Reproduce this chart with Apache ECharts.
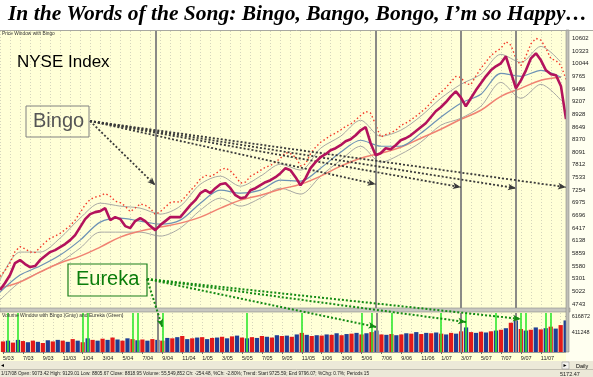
<!DOCTYPE html>
<html>
<head>
<meta charset="utf-8">
<script src="https://cdn.jsdelivr.net/npm/echarts@6/dist/echarts.min.js"></script>
<style>
html, body { margin: 0; padding: 0; background: #fff; }
#main { width: 593px; height: 377px; }
</style>
</head>
<body>
<div id="main"></div>
<script>
// semi-monthly points from 5/1/03 to 1/16/08
var dates = [];
for (var i = 0; i < 114; i++) {
	var tm = 4 + Math.floor(i / 2);
	var yr = 2003 + Math.floor(tm / 12), mo = tm % 12 + 1;
	dates.push(mo + '/' + (i % 2 ? 16 : 1) + '/' + String(yr).slice(2));
}

var closes = [5051,5205,5382,5646,5712,5624,5558,5580,5712,5800,
	5888,5932,5998,6064,6152,6262,6439,6615,6725,6769,
	6791,6857,6593,6659,6615,6461,6417,6571,6637,6571,
	6461,6372,6483,6571,6659,6659,6659,6791,6923,7033,
	7187,7253,7187,7297,7385,7407,7297,7143,7077,7099,
	7253,7297,7363,7429,7473,7540,7628,7738,7694,7540,
	7363,7518,7738,7870,7980,8046,8134,8178,8244,8332,
	8376,8464,8574,8641,8288,8024,8068,8178,8156,8244,
	8354,8398,8464,8552,8641,8729,8861,8993,9081,9191,
	9323,9433,9301,9103,9279,9455,9609,9764,9896,9984,
	10050,10204,9852,9499,9675,9896,10160,10270,10116,9896,
	9808,9786,9543,8819];

// red dotted trail above price
var trail = [5350,5480,5650,5900,6010,5960,5890,5880,5990,6100,
	6190,6240,6300,6380,6470,6590,6760,6930,7050,7100,
	7130,7180,7120,7010,6980,6900,6780,6860,6950,6920,
	6850,6720,6780,6880,6980,7000,6990,7110,7240,7360,
	7500,7580,7560,7610,7700,7740,7680,7560,7410,7430,
	7560,7620,7690,7760,7800,7870,7960,8080,8060,7980,
	7790,7830,8060,8200,8310,8380,8460,8510,8580,8660,
	8710,8800,8900,8990,8950,8700,8420,8480,8520,8570,
	8680,8730,8800,8880,8970,9060,9180,9320,9410,9510,
	9640,9760,9740,9600,9580,9770,9940,10080,10220,10310,
	10380,10530,10450,10160,10000,10210,10480,10600,10560,10380,
	10150,10110,10000,9700];

// every 4th point (5/1/03, 7/1/03, ...)
var ma200 = [5095,5227,5448,5646,5800,5998,6218,6350,6439,6527,6659,6857,7033,7143,7275,
	7385,7562,7782,7958,8068,8200,8398,8596,8817,9015,9323,9499,9675,9742];
var maMid = [5007,5382,5580,5822,6152,6549,6637,6571,6505,6593,6967,7253,7187,7253,7473,
	7451,7738,8090,8354,8222,8222,8508,8861,9169,9367,9830,9764,9896,9742];
var bandUp = [5271,5888,5888,6196,6637,6967,6901,6857,6725,6901,7385,7562,7341,7562,7826,
	7694,8178,8442,8795,8442,8574,8883,9279,9587,9808,10248,10072,10424,10072];
var bandLo = [4831,5227,5448,5668,5976,6328,6328,6328,6240,6417,6813,7077,6901,7077,7297,
	7165,7562,7914,8222,7870,8046,8310,8685,8839,9103,9631,9279,9587,9235];

var volumes = [290000,300000,275000,310000,295000,280000,300000,285000,270000,305000,
	290000,310000,300000,285000,320000,300000,280000,330000,310000,300000,
	325000,310000,340000,315000,300000,330000,320000,305000,315000,300000,
	320000,310000,300000,335000,330000,345000,360000,320000,330000,340000,
	345000,320000,335000,340000,350000,330000,355000,365000,340000,330000,
	345000,335000,360000,350000,340000,370000,360000,365000,350000,380000,
	400000,375000,360000,370000,365000,380000,375000,395000,370000,385000,
	390000,400000,380000,395000,410000,430000,380000,375000,385000,370000,
	380000,395000,390000,410000,385000,400000,395000,405000,390000,380000,
	400000,390000,420000,470000,410000,400000,415000,405000,420000,430000,
	440000,460000,530000,560000,450000,430000,440000,470000,445000,460000,
	480000,455000,500000,560000];

var priceTicks = [4743,5022,5301,5580,5859,6138,6417,6696,6975,7254,7533,
	7812,8091,8370,8649,8928,9207,9486,9765,10044,10323,10602];
var volTicks = [411248, 616872];

var bingoDates = ['8/16/04', '6/16/06', '3/1/07', '8/16/07'];
var eurekaDates = ['5/16/03','6/16/03','1/1/04','1/16/04','6/1/04','6/16/04','9/1/04',
	'5/16/05','11/1/05','5/1/06','6/1/06','6/16/06','8/1/06','1/1/07','3/16/07',
	'6/16/07','9/1/07','9/16/07','11/16/07','12/1/07'];
// where the Bingo / Eureka arrows land
var bingoTargets = [['8/16/04', 7363], ['6/16/06', 7385], ['3/1/07', 7319], ['8/16/07', 7297], ['1/16/08', 7319]];
var eurekaTargets = [['9/1/04', 475511], ['6/16/06', 475511], ['3/16/07', 539766], ['9/1/07', 578319]];

var statusText = '1/17/08 Open: 9073.42 High: 9129.01 Low: 8805.67 Close: 8818.95 Volume: 55,549,852 Ch: -254.48, %Ch: -2.80%; Trend: Start 9725.59; End 9796.07; %Chg: 0.7%; Periods 15';

function every4(arr) {
	return dates.map(function(d, i) { return i % 4 === 0 ? arr[i / 4] : null; });
}

function isMonthTick(idx, val) {
	var p = val.split('/');
	return idx < 112 && p[1] === '1' && (+p[0]) % 2 === 1;
}

var chart = echarts.init(document.getElementById('main'), null, { renderer: 'canvas' });

var yellow = '#ffffd7';
var small = 'Liberation Sans';

var option = {
	animation: false,
	backgroundColor: '#fff',
	graphic: [
		{ type: 'rect', z: -5, shape: { x: 0, y: 30, width: 566, height: 279 }, style: { fill: yellow } },
		{ type: 'rect', z: -5, shape: { x: 0, y: 312, width: 566, height: 49 }, style: { fill: yellow } },
		{ type: 'rect', z: -5, shape: { x: 566, y: 30, width: 27, height: 331 }, style: { fill: '#fffff0' } },
		{ type: 'rect', z: -4, shape: { x: 0, y: 308, width: 570, height: 4 }, style: { fill: '#c8c8c0', stroke: '#8c8c86', lineWidth: 0.6 } },
		{ type: 'rect', z: 50, shape: { x: 566, y: 30, width: 3, height: 322 }, style: { fill: '#c0c0b8', stroke: '#8c8c86', lineWidth: 0.6 } },
		{ type: 'line', z: 50, shape: { x1: 0, y1: 30.5, x2: 593, y2: 30.5 }, style: { stroke: '#a8a8a0', lineWidth: 1 } },
		{ type: 'rect', z: -5, shape: { x: 0, y: 361, width: 593, height: 16 }, style: { fill: '#ece9d8' } },
		{ type: 'line', z: 50, shape: { x1: 0, y1: 369.5, x2: 593, y2: 369.5 }, style: { stroke: '#c0bdb0', lineWidth: 1 } },
		{ type: 'rect', z: 50, shape: { x: 562, y: 362, width: 7, height: 7 }, style: { fill: '#f4f3ee', stroke: '#999', lineWidth: 0.6 } },
		{ type: 'text', z: 60, left: 563.5, top: 362.5, style: { text: '\u25B8', font: '6px "DejaVu Sans"', fill: '#000' } },
		{ type: 'text', z: 60, left: 1, top: 362.5, style: { text: '\u25C2', font: '6px "DejaVu Sans"', fill: '#000' } },
		{ type: 'text', z: 60, left: 576, top: 363, style: { text: 'Daily', font: '5.5px "' + small + '"', fill: '#000' } },
		{ type: 'text', z: 60, left: 1, top: 371, style: { text: statusText, font: '4.7px "' + small + '"', fill: '#222' } },
		{ type: 'text', z: 60, left: 560, top: 371, style: { text: '5172.47', font: '5.5px "' + small + '"', fill: '#222' } },
		{ type: 'text', z: 60, left: 2, top: 31.5, style: { text: 'Price Window with Bingo', font: '4.8px "' + small + '"', fill: '#333' } },
		{ type: 'text', z: 60, left: 2, top: 313.5, style: { text: 'Volume Window with Bingo (Gray) and Eureka (Green)', font: '5px "' + small + '"', fill: '#333' } },
		// title
		{ type: 'text', z: 60, left: 8, top: 3, style: {
			text: 'In the Words of the Song: Bingo, Bango, Bongo, I\u2019m so Happy\u2026',
			font: 'italic bold 21.5px "Liberation Serif"', fill: '#000' } },
		{ type: 'text', z: 60, left: 17, top: 54, style: { text: 'NYSE Index', font: '17px "Liberation Sans"', fill: '#000' } },
		// Bingo box
		{ type: 'rect', z: 60, shape: { x: 26, y: 106, width: 63, height: 31 }, style: { fill: 'rgba(0,0,0,0)', stroke: '#808080', lineWidth: 1 } },
		{ type: 'text', z: 60, left: 33, top: 111, style: { text: 'Bingo', font: '20px "Liberation Sans"', fill: '#555' } },
		// Eureka box
		{ type: 'rect', z: 60, shape: { x: 68, y: 264, width: 79, height: 32 }, style: { fill: 'rgba(0,0,0,0)', stroke: '#1a7f1a', lineWidth: 1.2 } },
		{ type: 'text', z: 60, left: 76, top: 269, style: { text: 'Eureka', font: '20px "Liberation Sans"', fill: '#0b7d0b' } }
	],
	grid: [
		{ left: 0, right: 27, top: 31, bottom: 69 },
		{ left: 0, right: 27, top: 313, bottom: 25 }
	],
	xAxis: [{
		type: 'category', gridIndex: 0, data: dates, boundaryGap: false,
		axisLine: { show: false }, axisTick: { show: false }, axisLabel: { show: false },
		splitLine: { show: true, interval: 1, lineStyle: { color: '#d4d4bc', type: [1, 2], width: 1 } }
	}, {
		type: 'category', gridIndex: 1, data: dates, boundaryGap: false,
		axisLine: { show: true, lineStyle: { color: '#999' } },
		axisTick: { show: true, length: 2, lineStyle: { color: '#666' }, interval: isMonthTick },
		axisLabel: {
			fontSize: 5.5, fontFamily: small, color: '#222', margin: 3, align: 'left',
			interval: isMonthTick,
			formatter: function(val) { var p = val.split('/'); return p[0] + '/' + p[2]; }
		},
		splitLine: { show: true, interval: 1, lineStyle: { color: '#d4d4bc', type: [1, 2], width: 1 } }
	}],
	yAxis: [{
		type: 'value', gridIndex: 0, position: 'right', min: 4655, max: 10763,
		axisLine: { show: false },
		axisTick: { show: true, length: 3, customValues: priceTicks, lineStyle: { color: '#444' } },
		axisLabel: { customValues: priceTicks, fontSize: 6, fontFamily: small, color: '#222', margin: 6,
			formatter: function(v) { return String(v); } },
		splitLine: { show: false }
	}, {
		type: 'value', gridIndex: 1, position: 'right', min: 154236, max: 655425,
		axisLine: { show: false },
		axisTick: { show: true, length: 3, customValues: [205624].concat(volTicks), lineStyle: { color: '#444' } },
		axisLabel: { customValues: volTicks, fontSize: 5.5, fontFamily: small, color: '#222', margin: 6,
			formatter: function(v) { return String(v); } },
		splitLine: { show: false }
	}],
	series: [
		{
			name: 'Upper band', type: 'line', xAxisIndex: 0, yAxisIndex: 0, data: every4(bandUp),
			connectNulls: true, smooth: 0.3, symbol: 'none', clip: false,
			lineStyle: { color: '#a9a9a4', width: 1 }, z: 2
		},
		{
			name: 'Lower band', type: 'line', xAxisIndex: 0, yAxisIndex: 0, data: every4(bandLo),
			connectNulls: true, smooth: 0.3, symbol: 'none', clip: false,
			lineStyle: { color: '#a9a9a4', width: 1 }, z: 2
		},
		{
			name: 'MA200', type: 'line', xAxisIndex: 0, yAxisIndex: 0, data: every4(ma200),
			connectNulls: true, smooth: 0.4, symbol: 'none', clip: false,
			lineStyle: { color: '#f08272', width: 1.5 }, z: 3
		},
		{
			name: 'MA', type: 'line', xAxisIndex: 0, yAxisIndex: 0, data: every4(maMid),
			connectNulls: true, smooth: 0.3, symbol: 'none', clip: false,
			lineStyle: { color: '#6d92b5', width: 1.2 }, z: 3
		},
		{
			name: 'Trail', type: 'line', xAxisIndex: 0, yAxisIndex: 0, data: trail,
			symbol: 'none', clip: false,
			lineStyle: { color: '#f23a2a', width: 1.4, type: [1.5, 2.5] }, z: 4
		},
		{
			name: 'Close', type: 'line', xAxisIndex: 0, yAxisIndex: 0, data: closes,
			symbol: 'none', clip: false,
			lineStyle: { color: '#b3125c', width: 2.6 }, z: 5,
			markLine: {
				silent: true, symbol: ['none', 'none'], animation: false, label: { show: false },
				data: bingoDates.map(function(d) {
					return { xAxis: d, lineStyle: { color: '#8a8a86', width: 2, type: 'solid' } };
				}).concat(bingoTargets.map(function(t) {
					return [{ x: 90, y: 121 }, { coord: t, symbol: 'arrow', symbolSize: [5, 8] }];
				})),
				lineStyle: { color: '#3a3a3a', width: 1.8, type: [2, 2] }
			}
		},
		{
			name: 'Volume', type: 'bar', xAxisIndex: 1, yAxisIndex: 1, data: volumes,
			barCategoryGap: '15%',
			itemStyle: { color: function(p) { return p.dataIndex % 2 ? '#1f3f94' : '#e31a1a'; } },
			markLine: {
				silent: true, symbol: ['none', 'none'], animation: false, label: { show: false },
				data: eurekaDates.map(function(d) {
					return { xAxis: d, lineStyle: { color: '#2ee82e', width: 1.6, type: 'solid' } };
				}).concat(bingoDates.map(function(d) {
					return { xAxis: d, lineStyle: { color: '#8a8a86', width: 2, type: 'solid' } };
				}))
			}
		},
		{
			name: 'Eureka arrows', type: 'line', xAxisIndex: 1, yAxisIndex: 1,
			data: dates.map(function() { return null; }), symbol: 'none', clip: false, z: 10,
			markLine: {
				silent: true, symbol: ['none', 'none'], animation: false, label: { show: false },
				data: eurekaTargets.map(function(t) {
					return [{ x: 147, y: 279 }, { coord: t, symbol: 'arrow', symbolSize: [5, 8] }];
				}),
				lineStyle: { color: '#138a13', width: 2, type: [2, 2] }
			}
		}
	]
};

chart.setOption(option);
</script>
</body>
</html>
